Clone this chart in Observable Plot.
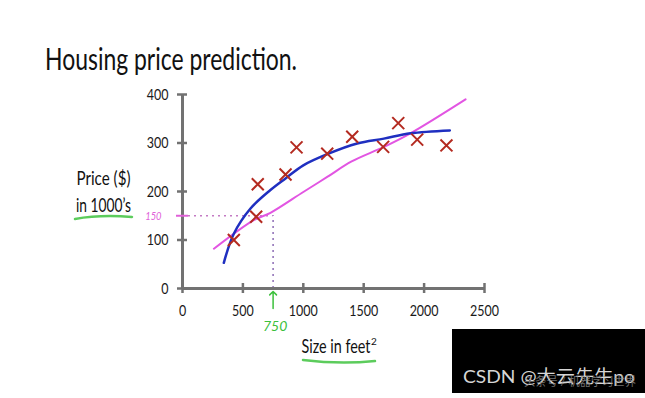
<!DOCTYPE html>
<html><head><meta charset="utf-8">
<script src="https://cdn.jsdelivr.net/npm/d3@7"></script>
<script src="https://cdn.jsdelivr.net/npm/@observablehq/plot@0.6"></script>
<style>
html,body{margin:0;padding:0;background:#fff;}
#wrap{position:relative;width:645px;height:398px;overflow:hidden;}
</style></head><body><div id="wrap"></div>
<script>
// Training examples (size in feet², price in $1000s)
const houseSize  = [425, 610, 623, 853, 944, 1198, 1405, 1661, 1786, 1943, 2185];
const housePrice = [100, 148, 215, 235, 291, 278, 313, 292, 341, 307, 295];
// Quadratic fit (blue)
const quadSize  = [342, 425, 563, 728, 853, 1000, 1198, 1446, 1667, 1887, 2213];
const quadPrice = [53, 113, 165, 203, 227, 254, 277, 299, 309, 320, 326];
// Straight-line fit (magenta)
const lineSize  = [260, 590, 728, 1000, 1198, 1400, 1667, 1887, 2343];
const linePrice = [82, 141, 156, 199, 230, 262, 292, 320, 390];
// Ticks
const xTicks = [0, 500, 1000, 1500, 2000, 2500];
const yTicks = [0, 100, 200, 300, 400];
// Query
const querySize = [750];
const predictedPrice = [150];

const houses = houseSize.map((s, i) => ({size: s, price: housePrice[i]}));
const quad = quadSize.map((s, i) => ({size: s, price: quadPrice[i]}));
const lin = lineSize.map((s, i) => ({size: s, price: linePrice[i]}));

const axisGray = "#727272";
const pink = "#e060d8";
const green = "#3cc03c";
const fmt = d => String(d);

const svg = Plot.plot({
  width: 645, height: 398,
  marginLeft: 182, marginRight: 161, marginTop: 94, marginBottom: 110,
  x: {domain: [0, 2500]},
  y: {domain: [0, 400]},
  style: {fontFamily: "Lato, 'Noto Sans', sans-serif", background: "#fff", color: "#111"},
  marks: [
    Plot.ruleY(predictedPrice, {x1: 0, x2: querySize[0], stroke: "#c47ac4", strokeWidth: 1.5, strokeDasharray: "2,4"}),
    Plot.ruleX(querySize, {y1: 0, y2: predictedPrice[0], stroke: "#8c6cb4", strokeWidth: 1.5, strokeDasharray: "2,4"}),
    Plot.ruleX([0], {y1: 0, y2: 400, stroke: axisGray, strokeWidth: 3}),
    Plot.ruleY([0], {x1: 0, x2: 2500, stroke: axisGray, strokeWidth: 3}),
    Plot.axisY({ticks: yTicks, tickFormat: fmt, tickSize: 10, dx: 5, tickPadding: 9, stroke: axisGray, strokeWidth: 2.5, fill: "#1a1a1a", fontSize: 16, label: null}),
    Plot.axisX({ticks: xTicks, tickFormat: fmt, tickSize: 10, dy: -5, tickPadding: 11, stroke: axisGray, strokeWidth: 2.5, fill: "#1a1a1a", fontSize: 16, label: null}),
    Plot.axisY({ticks: predictedPrice, tickFormat: fmt, tickSize: 12, dx: 6, tickPadding: 15, stroke: pink, strokeWidth: 2, fill: pink, fontSize: 12, fontStyle: "italic", label: null}),
    Plot.line(lin, {x: "size", y: "price", curve: "catmull-rom", stroke: "#e255e2", strokeWidth: 2}),
    Plot.line(quad, {x: "size", y: "price", curve: "catmull-rom", stroke: "#1f2fc0", strokeWidth: 2.5}),
    Plot.dot(houses, {x: "size", y: "price", symbol: "times", r: 5.5, stroke: "#b42a20", strokeWidth: 2}),
    Plot.vector(querySize, {x: d => d, y: 0, length: 17, rotate: 0, anchor: "start", dy: 20, stroke: green, strokeWidth: 1.5}),
    Plot.text(querySize, {x: d => d, y: 0, dy: 38, dx: 2, text: fmt, fill: green, fontSize: 14, fontStyle: "italic"})
  ]
});

// compress tick labels horizontally like the reference
d3.select(svg).selectAll('g[aria-label$="tick label"] text').each(function () {
  const t = this.getAttribute("transform") || "";
  this.setAttribute("transform", t + " scale(0.78,1)");
});

const s = d3.select(svg);
function label(txt, x, y, size, len, fill = "#111") {
  const el = s.append("text").attr("x", x).attr("y", y)
    .attr("text-anchor", "start")
    .attr("font-size", size).attr("fill", fill)
    .attr("font-family", "Lato, 'Noto Sans', 'Noto Sans CJK SC', sans-serif")
    .text(txt);
  if (len) el.attr("textLength", len).attr("lengthAdjust", "spacingAndGlyphs");
  return el;
}
label("Housing price prediction.", 45, 69.5, 31.5, 252);
label("Price ($)", 76.5, 185, 20, 54);
label("in 1000\u2019s", 76, 211.5, 20, 55);
label("Size in feet", 301.5, 353, 20, 69);
label("2", 371, 345, 10);
s.append("path").attr("d", "M75,219 Q100,214.5 132,217").attr("fill", "none").attr("stroke", "#5ccc5c").attr("stroke-width", 2.5).attr("stroke-linecap", "round");
s.append("path").attr("d", "M303,360 Q340,364.5 375,361").attr("fill", "none").attr("stroke", "#5ccc5c").attr("stroke-width", 2.5).attr("stroke-linecap", "round");

// watermark
s.append("rect").attr("x", 452).attr("y", 329).attr("width", 193).attr("height", 64).attr("fill", "#000");
label("CSDN @\u5927\u4e91\u5148\u751fpo", 463, 383, 18, 172, "#d6d6d6");
label("\u5934\u6761\u53f7 / \u673a\u5668\u5b66\u4e60\u4e16\u754c", 524, 386, 12, 112, "#8a8a8a").attr("opacity", 0.8);

document.getElementById("wrap").appendChild(svg);
</script></body></html>
